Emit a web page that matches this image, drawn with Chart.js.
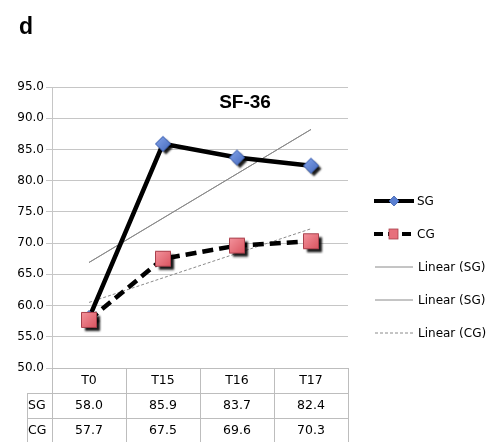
<!DOCTYPE html>
<html>
<head>
<meta charset="utf-8">
<script src="https://cdn.jsdelivr.net/npm/chart.js@4.4.1/dist/chart.umd.min.js"></script>
<style>
  html, body { margin: 0; padding: 0; background: #fff; }
  #wrap { position: relative; width: 489px; height: 442px; overflow: hidden; font-family: "DejaVu Sans", sans-serif; color: #000; }
  #chart { position: absolute; left: 0; top: 0; }
  .panel { position: absolute; left: 19px; top: 13px; font: bold 23px "Liberation Sans", Arial, sans-serif; }
  .title { position: absolute; left: 195px; width: 100px; top: 91px; text-align: center; font: bold 19px "Liberation Sans", Arial, sans-serif; }
  .cell { position: absolute; box-sizing: border-box; text-align: center; font-size: 12.5px; line-height: 24px; }
  .vline { position: absolute; width: 1px; background: #bdbdbd; }
  .hline { position: absolute; height: 1px; background: #bdbdbd; }
  .leg { position: absolute; left: 372px; font-size: 12px; height: 16px; line-height: 16px; white-space: nowrap; }
  .leg svg { position: absolute; left: 0; top: 0; }
  .leg span { position: absolute; top: 0; }
</style>
</head>
<body>
<div id="wrap">
  <canvas id="chart" width="489" height="442"></canvas>
  <div class="panel">d</div>
  <div class="title">SF-36</div>
  <div id="table"></div>
  <div id="legend"></div>
</div>
<script>
// Time points and SF-36 scores per group
const categories = ["T0", "T15", "T16", "T17"];
const sgValues = [58.0, 85.9, 83.7, 82.4];
const cgValues = [57.7, 67.5, 69.6, 70.3];
// Linear trend lines: end points at T0 and T17
const sgTrend = [66.9, null, null, 88.2];
const cgTrend = [60.5, null, null, 72.3];
// Value axis
const yTicks = [50, 55, 60, 65, 70, 75, 80, 85, 90, 95];
const rowLabels = ["SG", "CG"];

const SG_BLUE = "#5a80d2";
const CG_RED = "#e7707c";

// Marker images with a drop shadow; the marker sits at the image centre
function makeMarker(shape) {
  const size = 26, c = size / 2;
  const cv = document.createElement("canvas");
  cv.width = size; cv.height = size;
  const ctx = cv.getContext("2d");
  const path = () => {
    ctx.beginPath();
    if (shape === "diamond") {
      const r = 7.5;
      ctx.moveTo(c, c - r); ctx.lineTo(c + r, c); ctx.lineTo(c, c + r); ctx.lineTo(c - r, c);
      ctx.closePath();
    } else {
      const h = 7.5;
      ctx.rect(c - h, c - h, 2 * h, 2 * h);
    }
  };
  ctx.save();
  ctx.shadowColor = "rgba(0,0,0,0.9)";
  ctx.shadowOffsetX = 3; ctx.shadowOffsetY = 3; ctx.shadowBlur = 2;
  path();
  ctx.fillStyle = shape === "diamond" ? SG_BLUE : CG_RED;
  ctx.fill();
  ctx.restore();
  // soft highlight toward the upper left
  path();
  const g = ctx.createLinearGradient(c - 8, c - 8, c + 8, c + 8);
  if (shape === "diamond") {
    g.addColorStop(0, "#86a6ec"); g.addColorStop(1, "#4468bb");
  } else {
    g.addColorStop(0, "#f4959e"); g.addColorStop(1, "#d9535f");
  }
  ctx.fillStyle = g;
  ctx.fill();
  ctx.lineWidth = 1;
  ctx.strokeStyle = shape === "diamond" ? "#3d5fae" : "#a8404c";
  ctx.stroke();
  return cv;
}
const diamondImg = makeMarker("diamond");
const squareImg = makeMarker("square");

const chart = new Chart(document.getElementById("chart"), {
  type: "line",
  data: {
    labels: categories,
    datasets: [
      {
        label: "SG", data: sgValues, order: 2,
        borderColor: "#000", borderWidth: 4.5,
        pointStyle: diamondImg, pointRadius: 8,
        tension: 0
      },
      {
        label: "CG", data: cgValues, order: 1,
        borderColor: "#000", borderWidth: 4.5, borderDash: [11, 6],
        pointStyle: squareImg, pointRadius: 8,
        tension: 0
      },
      {
        label: "Linear (SG)", data: sgTrend, spanGaps: true, order: 3,
        borderColor: "#8a8a8a", borderWidth: 1, pointRadius: 0
      },
      {
        label: "Linear (SG)", data: sgTrend, spanGaps: true, order: 3,
        borderColor: "#8a8a8a", borderWidth: 1, pointRadius: 0
      },
      {
        label: "Linear (CG)", data: cgTrend, spanGaps: true, order: 3,
        borderColor: "#8a8a8a", borderWidth: 1, borderDash: [3, 2], pointRadius: 0
      }
    ]
  },
  options: {
    responsive: false,
    animation: false,
    devicePixelRatio: 1,
    layout: { padding: { left: 0, top: 87, right: 141, bottom: 74 } },
    plugins: { legend: { display: false }, tooltip: { enabled: false }, title: { display: false } },
    scales: {
      x: { display: false, offset: true },
      y: {
        min: yTicks[0], max: yTicks[yTicks.length - 1],
        afterFit(scale) { scale.width = 52; scale.paddingTop = 0; scale.paddingBottom = 0; },
        afterBuildTicks(scale) { scale.ticks = yTicks.map(v => ({ value: v })); },
        ticks: {
          color: "#000", padding: 2,
          font: { family: "DejaVu Sans", size: 12 },
          callback: v => Number(v).toFixed(1)
        },
        grid: { color: "#c6c6c6", lineWidth: 1, tickLength: 6 },
        border: { color: "#c6c6c6", width: 1 }
      }
    }
  }
});

// Data table under the plot, aligned to the category columns
(function buildTable() {
  const area = chart.chartArea;
  const xs = chart.scales.x;
  const n = categories.length;
  const colW = (area.right - area.left) / n;
  const left = Math.round(area.left);
  const right = Math.round(area.right);
  const top = Math.round(area.bottom);
  const rowH = 25;
  const labelLeft = 27;
  const host = document.getElementById("table");
  const add = (cls, style, text) => {
    const d = document.createElement("div");
    d.className = cls;
    Object.assign(d.style, style);
    if (text !== undefined) d.textContent = text;
    host.appendChild(d);
  };
  // header row with category names
  categories.forEach((c, i) => {
    const cx = xs.getPixelForValue(i);
    add("cell", { left: (cx - colW / 2) + "px", width: colW + "px", top: top + "px", height: rowH + "px" }, c);
  });
  // data rows
  const rows = [sgValues, cgValues];
  rows.forEach((vals, r) => {
    const y = top + rowH * (r + 1);
    add("cell", { left: labelLeft + "px", width: (left - labelLeft) + "px", top: y + "px", height: rowH + "px", textAlign: "left", paddingLeft: "1px" }, rowLabels[r]);
    vals.forEach((v, i) => {
      const cx = xs.getPixelForValue(i);
      add("cell", { left: (cx - colW / 2) + "px", width: colW + "px", top: y + "px", height: rowH + "px" }, v.toFixed(1));
    });
  });
  // grid lines
  add("hline", { left: left + "px", width: (right - left + 1) + "px", top: top + "px" });
  for (let r = 1; r <= rows.length; r++) {
    add("hline", { left: labelLeft + "px", width: (right - labelLeft + 1) + "px", top: (top + rowH * r) + "px" });
  }
  add("hline", { left: labelLeft + "px", width: (right - labelLeft + 1) + "px", top: (top + rowH * 3) + "px" });
  for (let i = 0; i <= n; i++) {
    const x = Math.round(area.left + colW * i);
    add("vline", { left: x + "px", top: top + "px", height: (rowH * 3) + "px" });
  }
  add("vline", { left: labelLeft + "px", top: (top + rowH) + "px", height: (rowH * 2) + "px" });
})();

// Legend at the right of the plot
(function buildLegend() {
  const host = document.getElementById("legend");
  const entries = [
    { text: "SG", top: 193, svg: '<line x1="2" y1="8" x2="42" y2="8" stroke="#000" stroke-width="4"/><polygon points="22,3 27,8 22,13 17,8" fill="' + SG_BLUE + '" stroke="#3d5fae" stroke-width="0.8"/>', tx: 45 },
    { text: "CG", top: 226, svg: '<line x1="2" y1="8" x2="42" y2="8" stroke="#000" stroke-width="4" stroke-dasharray="9,5"/><rect x="17" y="3" width="9" height="10" fill="' + CG_RED + '" stroke="#a8404c" stroke-width="0.8"/>', tx: 45 },
    { text: "Linear (SG)", top: 259, svg: '<line x1="3" y1="8" x2="41" y2="8" stroke="#8a8a8a" stroke-width="1"/>', tx: 46 },
    { text: "Linear (SG)", top: 292, svg: '<line x1="3" y1="8" x2="41" y2="8" stroke="#8a8a8a" stroke-width="1"/>', tx: 46 },
    { text: "Linear (CG)", top: 325, svg: '<line x1="3" y1="8" x2="41" y2="8" stroke="#8a8a8a" stroke-width="1" stroke-dasharray="3,2"/>', tx: 46 }
  ];
  entries.forEach(e => {
    const d = document.createElement("div");
    d.className = "leg";
    d.style.top = e.top + "px";
    d.innerHTML = '<svg width="44" height="16">' + e.svg + '</svg>';
    const s = document.createElement("span");
    s.style.left = e.tx + "px";
    s.textContent = e.text;
    d.appendChild(s);
    host.appendChild(d);
  });
})();
</script>
</body>
</html>
